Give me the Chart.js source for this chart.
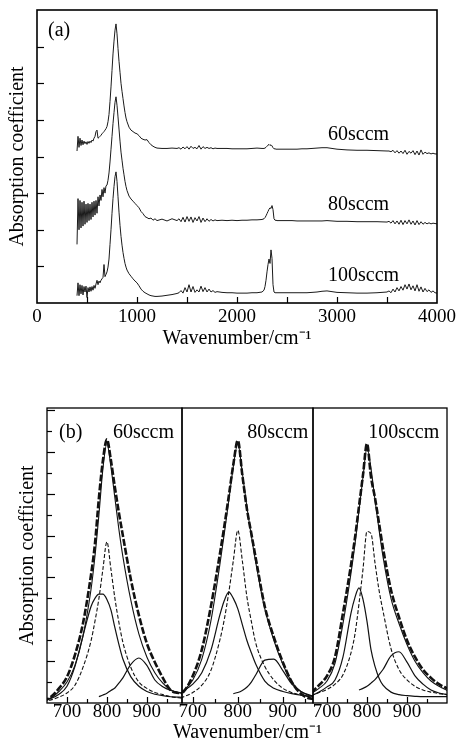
<!DOCTYPE html>
<html>
<head>
<meta charset="utf-8">
<script src="https://cdn.jsdelivr.net/npm/chart.js@4.4.0/dist/chart.umd.min.js"></script>
<style>
  body { margin: 0; background: #fff; }
  #wrap { position: relative; width: 457px; height: 746px; }
  canvas { position: absolute; left: 0; }
</style>
</head>
<body>
<div id="wrap">
  <canvas id="chartA" width="457" height="350" style="top:0"></canvas>
  <canvas id="chartB1" width="457" height="348" style="top:398px"></canvas>
  <canvas id="chartB2" width="457" height="348" style="top:398px"></canvas>
  <canvas id="chartB3" width="457" height="348" style="top:398px"></canvas>
</div>
<script>
// ---- panel (a): full spectra, wavenumber grid shared by the three films ----
const wnA = [
  400,410,420,430,440,450,460,470,480,490,500,510,520,530,540,550,560,570,580,590,600,610,620,630,640,650,660,670,680,690,700,
  710,720,730,740,750,760,770,780,790,800,810,820,830,840,850,860,870,880,890,900,
  920,940,960,980,1000,1020,1040,1060,1080,1100,1120,1140,1160,1180,1200,
  1250,1300,1350,1400,
  1420,1440,1460,1480,1500,1520,1540,1560,1580,1600,1620,1640,1660,1680,1700,1720,1740,1760,1780,1800,
  1850,1900,1950,2000,2050,2100,2150,2200,2250,
  2270,2280,2290,2300,2310,2320,2330,2340,2350,2360,2370,2380,2390,2400,2410,2420,
  2450,2500,2550,2600,2650,2700,2750,2800,2850,2900,
  2950,3000,3100,3200,3300,3400,3500,
  3520,3540,3560,3580,3600,3620,3640,3660,3680,3700,3720,3740,3760,3780,3800,3820,3840,3860,3880,3900,3920,3940,3960,3980,4000
];
const abs60 = [
  4.15,4.55,4.25,4.5,4.3,4.45,4.32,4.42,4.35,4.4,4.33,4.41,4.36,4.42,4.38,4.45,4.42,4.5,4.55,4.68,4.72,4.5,4.52,4.55,4.58,4.62,4.65,4.68,4.72,4.76,4.82,
  4.95,5.15,5.5,5.9,6.35,6.8,7.15,7.45,7.62,7.35,6.95,6.6,6.3,6.0,5.78,5.58,5.38,5.2,5.05,4.95,
  4.8,4.72,4.68,4.64,4.62,4.57,4.5,4.47,4.45,4.46,4.38,4.32,4.28,4.25,4.23,
  4.22,4.22,4.23,4.22,
  4.24,4.2,4.26,4.21,4.27,4.2,4.28,4.22,4.25,4.21,4.3,4.2,4.27,4.22,4.25,4.22,4.24,4.21,4.23,4.22,
  4.22,4.22,4.21,4.21,4.21,4.21,4.22,4.23,4.22,
  4.22,4.23,4.25,4.28,4.31,4.33,4.3,4.32,4.29,4.24,4.21,4.21,4.2,4.2,4.2,4.2,
  4.2,4.2,4.2,4.2,4.21,4.21,4.22,4.23,4.24,4.24,
  4.22,4.2,4.18,4.17,4.17,4.16,4.15,
  4.15,4.13,4.17,4.1,4.16,4.09,4.15,4.08,4.17,4.06,4.14,4.09,4.16,4.05,4.15,4.04,4.18,4.06,4.12,4.08,4.1,4.07,4.09,4.07,4.07
];
const abs80 = [
  1.6,2.85,2.0,2.8,2.05,2.75,2.1,2.78,2.15,2.7,2.2,2.72,2.25,2.7,2.28,2.75,2.35,2.78,2.4,2.8,2.45,2.9,2.65,2.95,2.8,3.1,2.9,3.15,3.0,3.2,3.22,
  3.35,3.55,3.85,4.2,4.55,4.9,5.2,5.48,5.63,5.4,5.08,4.75,4.42,4.12,3.9,3.68,3.5,3.32,3.18,3.07,
  2.92,2.84,2.78,2.72,2.66,2.6,2.5,2.44,2.36,2.33,2.3,2.32,2.26,2.3,2.25,
  2.29,2.24,2.3,2.25,
  2.3,2.22,2.34,2.21,2.36,2.23,2.35,2.2,2.33,2.24,2.36,2.2,2.32,2.22,2.3,2.23,2.28,2.24,2.27,2.25,
  2.26,2.25,2.26,2.25,2.26,2.26,2.27,2.27,2.28,
  2.3,2.33,2.38,2.44,2.5,2.56,2.6,2.58,2.66,2.55,2.3,2.26,2.26,2.25,2.25,2.25,
  2.25,2.25,2.25,2.24,2.24,2.24,2.24,2.24,2.24,2.25,
  2.24,2.23,2.23,2.22,2.22,2.22,2.21,
  2.23,2.18,2.25,2.16,2.24,2.15,2.26,2.14,2.25,2.16,2.27,2.15,2.24,2.13,2.25,2.14,2.22,2.15,2.2,2.16,2.19,2.16,2.18,2.17,2.16
];
const abs100 = [
  0.2,0.55,0.2,0.5,0.25,0.48,0.22,0.45,0.3,0.46,0.15,0.42,0.3,0.44,0.32,0.45,0.35,0.48,0.4,0.52,0.62,0.5,0.6,0.55,0.62,0.66,0.7,1.05,0.72,0.78,0.85,
  0.98,1.2,1.6,2.0,2.45,2.85,3.18,3.45,3.58,3.32,2.9,2.48,2.12,1.82,1.58,1.38,1.22,1.08,0.98,0.9,
  0.8,0.73,0.66,0.6,0.55,0.47,0.38,0.32,0.28,0.25,0.22,0.2,0.19,0.18,0.18,
  0.19,0.21,0.23,0.26,
  0.28,0.34,0.27,0.42,0.3,0.5,0.3,0.45,0.29,0.36,0.3,0.46,0.31,0.42,0.3,0.38,0.3,0.34,0.29,0.31,
  0.29,0.28,0.28,0.27,0.27,0.27,0.28,0.28,0.3,
  0.35,0.45,0.62,0.85,1.05,1.2,1.08,1.45,1.22,0.5,0.3,0.28,0.28,0.28,0.28,0.28,
  0.28,0.28,0.28,0.28,0.28,0.28,0.29,0.3,0.32,0.33,
  0.31,0.29,0.28,0.27,0.27,0.28,0.3,
  0.33,0.28,0.38,0.3,0.42,0.33,0.45,0.35,0.5,0.38,0.52,0.36,0.47,0.33,0.5,0.32,0.44,0.3,0.4,0.31,0.36,0.29,0.33,0.28,0.27
];
const xLabelsA = [0, 1000, 2000, 3000, 4000];

// ---- panel (b): Si-N band and its fitted components ----
const wnB = [640,660,680,700,720,740,760,770,780,790,800,810,820,830,840,860,880,900,920,940,960,980,1000];

const data60   = [0.05,0.3,0.7,1.25,2.3,3.8,6.1,7.6,9.8,11.6,12.6,11.6,10.3,9.1,8.0,5.9,4.2,2.85,1.95,1.2,0.6,0.48,0.45];
const fit60    = [0.1,0.25,0.55,1.0,1.8,3.2,5.4,7.0,9.0,11.2,12.4,11.3,9.8,8.3,7.0,4.9,3.3,2.2,1.45,0.95,0.62,0.5,0.45];
const broad60  = [0.15,0.22,0.42,0.8,1.75,3.2,4.6,5.0,5.2,5.2,4.95,4.45,3.6,2.8,2.1,1.25,0.8,0.55,0.42,0.35,0.3,0.28,0.27];
const narrow60 = [0.1,0.15,0.28,0.48,0.85,1.7,2.95,3.9,5.0,6.4,7.7,6.4,5.0,3.85,2.9,1.7,1.0,0.7,0.5,0.4,0.3,0.25,0.2];
const small60  = [null,null,null,null,null,null,null,null,0.3,0.38,0.47,0.6,0.72,0.95,1.2,1.85,2.15,1.8,1.1,0.78,0.6,0.5,0.45];

const data80   = [0.2,0.3,0.55,1.3,2.55,4.6,7.1,8.45,9.9,11.4,12.55,10.9,9.3,8.1,6.9,4.6,3.15,1.95,1.0,0.45,0.22,0.2,0.2];
const fit80    = [0.15,0.3,0.6,1.1,2.1,3.9,6.6,8.1,9.7,11.3,12.4,11.0,9.4,8.0,6.7,4.5,3.0,1.85,1.0,0.55,0.35,0.3,0.28];
const broad80  = [0.25,0.4,0.6,0.9,1.45,2.5,4.2,4.9,5.3,5.0,4.5,3.75,3.0,2.4,1.85,1.05,0.7,0.55,0.45,0.38,0.33,0.3,0.3];
const narrow80 = [0.1,0.15,0.3,0.5,0.85,1.55,3.0,4.0,5.3,6.8,8.25,6.8,5.1,3.9,2.85,1.75,1.1,0.7,0.5,0.38,0.3,0.25,0.2];
const small80  = [null,null,null,null,null,null,null,null,null,0.45,0.5,0.6,0.75,1.0,1.35,2.05,2.1,1.55,0.9,0.55,0.38,0.3,0.28];

const data100   = [0.3,0.5,0.85,1.3,2.2,4.3,6.6,7.9,9.4,10.9,12.4,10.8,9.8,8.6,7.4,5.4,4.1,3.0,2.2,1.6,1.2,0.9,0.7];
const fit100    = [0.3,0.45,0.7,1.05,1.9,3.8,6.2,7.6,9.2,10.8,12.2,11.2,9.7,8.3,7.0,5.0,3.8,2.8,2.0,1.45,1.05,0.8,0.6];
const broad100  = [0.25,0.35,0.52,0.77,1.1,2.2,4.3,5.05,5.5,4.95,3.9,2.55,1.75,1.2,0.85,0.52,0.4,0.35,0.32,0.3,0.3,0.3,0.3];
const narrow100 = [0.2,0.35,0.5,0.65,0.9,1.35,2.4,3.3,4.75,6.4,8.2,8.1,6.7,5.4,4.4,2.6,1.6,1.1,0.8,0.62,0.52,0.45,0.4];
const small100  = [null,null,null,null,null,null,null,null,0.62,0.7,0.8,0.95,1.12,1.35,1.6,2.25,2.45,1.95,1.3,0.9,0.62,0.48,0.4];

const xLabelsB = [700, 800, 900];

Chart.defaults.font.family = '"Liberation Serif", "Times New Roman", serif';
Chart.defaults.color = '#000';

const SERIF = '"Liberation Serif", serif';
const XTITLE = 'Wavenumber/cm\u207B\u00B9';
const YTITLE = 'Absorption coefficient';

// frame, inward ticks and text notes
const framePlugin = {
  id: 'frame',
  afterDraw(chart, args, o) {
    const {ctx, chartArea: a, scales} = chart;
    const x = scales.x, y = scales.y;
    ctx.save();
    ctx.strokeStyle = '#000';
    ctx.lineWidth = 1.2;
    x.ticks.forEach(t => {
      const px = Math.round(x.getPixelForValue(t.value)) + 0.5;
      if (px < a.left + 2 || px > a.right - 2) return;
      const len = t.value % o.xMajor === 0 ? o.xLen[0] : o.xLen[1];
      ctx.beginPath(); ctx.moveTo(px, a.bottom); ctx.lineTo(px, a.bottom - len); ctx.stroke();
    });
    if (o.yTicks) {
      y.ticks.forEach(t => {
        const py = Math.round(y.getPixelForValue(t.value)) + 0.5;
        if (py < a.top + 2 || py > a.bottom - 2) return;
        const len = t.value % o.yMajor === 0 ? o.yLen[0] : o.yLen[1];
        ctx.beginPath(); ctx.moveTo(a.left, py); ctx.lineTo(a.left + len, py); ctx.stroke();
      });
    }
    ctx.lineWidth = o.frame;
    ctx.strokeRect(a.left, a.top, a.right - a.left, a.bottom - a.top);
    ctx.fillStyle = '#000';
    ctx.textBaseline = 'middle';
    ctx.textAlign = 'left';
    ctx.font = '20px ' + SERIF;
    (o.notes || []).forEach(n => {
      ctx.fillText(n.text, x.getPixelForValue(n.x), y.getPixelForValue(n.y));
    });
    // shared axis title for the three sub-panels, drawn without width squeeze
    if (o.bottomTitle) {
      ctx.textAlign = 'center';
      ctx.fillText(o.bottomTitle, (a.left + a.right) / 2, a.bottom + 30);
    }
    ctx.restore();
  }
};

function fixedX(h) {
  return s => { s.height = h; s.paddingLeft = 0; s.paddingRight = 0; };
}
function fixedY(w) {
  return s => { s.width = w; s.paddingTop = 0; s.paddingBottom = 0; };
}

// ---- chart (a) ----
new Chart(document.getElementById('chartA'), {
  type: 'line',
  data: {
    datasets: [abs60, abs80, abs100].map(arr => ({
      data: wnA.map((w, i) => ({x: w, y: arr[i]})),
      borderColor: '#1a1a1a',
      borderWidth: 1,
      pointRadius: 0,
      tension: 0
    }))
  },
  options: {
    responsive: false,
    animation: false,
    devicePixelRatio: 1,
    layout: {padding: {left: 0, right: 20, top: 10, bottom: 0}},
    plugins: {
      legend: {display: false},
      tooltip: {enabled: false},
      frame: {
        frame: 1.6, xMajor: 500, xLen: [6, 6], yTicks: true, yMajor: 1, yLen: [7, 7],
        notes: [
          {text: '(a)', x: 110, y: 7.43},
          {text: '60sccm', x: 2910, y: 4.59},
          {text: '80sccm', x: 2910, y: 2.68},
          {text: '100sccm', x: 2910, y: 0.74}
        ]
      }
    },
    scales: {
      x: {
        type: 'linear', min: 0, max: 4000,
        grid: {display: false, drawTicks: false}, border: {display: false},
        ticks: {
          stepSize: 500, autoSkip: false, maxRotation: 0, padding: 5,
          font: {size: 19, lineHeight: 1},
          callback: v => xLabelsA.includes(v) ? String(v) : ''
        },
        title: {display: true, text: XTITLE, font: {size: 20, lineHeight: 1}, padding: {top: 0, bottom: 1}},
        afterFit: fixedX(47)
      },
      y: {
        min: 0, max: 8,
        grid: {display: false, drawTicks: false}, border: {display: false},
        ticks: {display: false, stepSize: 1},
        title: {display: true, text: YTITLE, font: {size: 20, lineHeight: 1}, padding: {top: 8, bottom: 0}},
        afterFit: fixedY(37)
      }
    }
  },
  plugins: [framePlugin]
});

// ---- charts (b) ----
function subPanel(id, series, xmin, xmax, pad, first, middle, notes) {
  const styles = [
    {borderWidth: 2.6, borderDash: [7, 2]},
    {borderWidth: 1.1},
    {borderWidth: 1.2},
    {borderWidth: 1.1, borderDash: [4, 2]},
    {borderWidth: 1.2}
  ];
  new Chart(document.getElementById(id), {
    type: 'line',
    data: {
      datasets: series.map((arr, k) => Object.assign({
        data: wnB.map((w, i) => ({x: w, y: arr[i]})),
        borderColor: '#111',
        pointRadius: 0,
        cubicInterpolationMode: 'monotone',
        spanGaps: false,
        clip: 0
      }, styles[k]))
    },
    options: {
      responsive: false,
      animation: false,
      devicePixelRatio: 1,
      layout: {padding: {left: pad[0], right: pad[1], top: 10, bottom: 0}},
      plugins: {
        legend: {display: false},
        tooltip: {enabled: false},
        frame: {
          frame: 1.3, xMajor: 100, xLen: [6, 4], yTicks: first, yMajor: 2, yLen: [8, 5],
          notes: notes, bottomTitle: middle ? XTITLE : null
        }
      },
      scales: {
        x: {
          type: 'linear', min: xmin, max: xmax,
          grid: {display: false, drawTicks: false}, border: {display: false},
          ticks: {
            stepSize: 50, includeBounds: false, autoSkip: false, maxRotation: 0, padding: 0,
            font: {size: 19, lineHeight: 1},
            callback: v => xLabelsB.includes(v) ? String(v) : ''
          },
          afterFit: fixedX(43)
        },
        y: {
          display: first,
          min: 0, max: 14.1,
          grid: {display: false, drawTicks: false}, border: {display: false},
          ticks: {display: false, stepSize: 1, includeBounds: false},
          title: {display: first, text: YTITLE, font: {size: 20, lineHeight: 1}, padding: {top: 18, bottom: 0}},
          afterFit: first ? fixedY(47) : undefined
        }
      }
    },
    plugins: [framePlugin]
  });
}

subPanel('chartB1', [data60, fit60, broad60, narrow60, small60], 650, 988, [0, 275], true, false,
  [{text: '(b)', x: 680, y: 12.94}, {text: '60sccm', x: 815, y: 12.94}]);
subPanel('chartB2', [data80, fit80, broad80, narrow80, small80], 676, 967, [182, 144], false, true,
  [{text: '80sccm', x: 821, y: 12.94}]);
subPanel('chartB3', [data100, fit100, broad100, narrow100, small100], 665, 1000, [313, 10], false, false,
  [{text: '100sccm', x: 803, y: 12.94}]);
</script>
</body>
</html>
